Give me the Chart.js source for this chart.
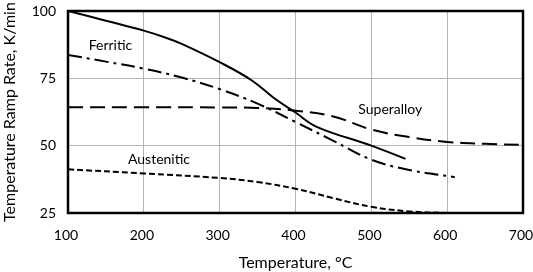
<!DOCTYPE html>
<html>
<head>
<meta charset="utf-8">
<script src="https://cdn.jsdelivr.net/npm/chart.js@4/dist/chart.umd.min.js"></script>
<style>
html,body{margin:0;padding:0;background:#fff;}
#wrap{width:533px;height:272px;}
</style>
</head>
<body>
<div id="wrap"><canvas id="c" width="533" height="272"></canvas></div>
<script>
// Temperature (°C) values per series
const solidX = [100, 150, 200, 230, 250, 300, 342, 372, 400, 428, 500, 545];
const solidY = [100, 96.4, 92.7, 90, 87.8, 81, 74.3, 67.6, 62.3, 57, 50, 45.1];

const ferriticX = [100, 150, 200, 250, 300, 350, 400, 450, 500, 550, 610];
const ferriticY = [83.7, 81.2, 78.6, 75.3, 71, 65.6, 58.8, 51.8, 44.8, 41, 38.3];

const superalloyX = [100, 200, 300, 350, 400, 450, 500, 550, 600, 650, 700];
const superalloyY = [64.3, 64.3, 64.2, 64, 63, 60.8, 56, 53.2, 51.4, 50.7, 50.3];

const austeniticX = [100, 200, 300, 350, 400, 450, 500, 550, 600];
const austeniticY = [41.2, 39.7, 38, 36.5, 34, 30.5, 27.3, 25.6, 25];

const xTicks = [100, 200, 300, 400, 500, 600, 700];
const yTicks = [25, 50, 75, 100];

const labelTexts = ["Ferritic", "Superalloy", "Austenitic"];
const labelX = [156, 525, 220];
const labelY = [87.3, 63.5, 45];

const FONT = "Lato, 'Liberation Sans', sans-serif";

function pts(xs, ys){ return xs.map((x,i)=>({x:x, y:ys[i]})); }

const textPlugin = {
  id: 'seriesText',
  afterDatasetsDraw(chart){
    const {ctx, scales:{x, y}, chartArea:a} = chart;
    ctx.save();
    ctx.fillStyle = '#000';
    ctx.font = "14px " + FONT;
    ctx.textAlign = 'center';
    ctx.textBaseline = 'middle';
    labelTexts.forEach((t,i)=>{
      ctx.fillText(t, x.getPixelForValue(labelX[i]), y.getPixelForValue(labelY[i]));
    });
    ctx.strokeStyle = '#000';
    ctx.lineWidth = 2.5;
    ctx.strokeRect(a.left, a.top, a.right - a.left, a.bottom - a.top);
    ctx.restore();
  }
};

const common = {borderColor:'#000', borderWidth:2, pointRadius:0, fill:false, tension:0.4};

new Chart(document.getElementById('c'), {
  type: 'line',
  data: {
    datasets: [
      Object.assign({label:'Solid', data: pts(solidX, solidY)}, common),
      Object.assign({label:'Ferritic', data: pts(ferriticX, ferriticY), borderDash:[14,5,3,5]}, common),
      Object.assign({label:'Superalloy', data: pts(superalloyX, superalloyY), borderDash:[15,7]}, common),
      Object.assign({label:'Austenitic', data: pts(austeniticX, austeniticY), borderDash:[6,3]}, common)
    ]
  },
  options: {
    responsive: false,
    animation: false,
    devicePixelRatio: 1,
    layout: {padding: {top: 11, right: 10, left: 0, bottom: 0}},
    plugins: {legend: {display:false}, tooltip: {enabled:false}},
    scales: {
      x: {
        type: 'linear', min: 100, max: 700,
        afterBuildTicks: s => { s.ticks = xTicks.map(v=>({value:v})); },
        afterFit: s => { s.height = 59; s.paddingRight = 0; s.paddingLeft = 0; },
        grid: {color:'#b4b4b4', lineWidth:1, drawTicks:false},
        border: {display:false},
        ticks: {color:'#000', font:{family:FONT, size:14}, padding:14, maxRotation:0, labelOffset:-2},
        title: {display:true, text:'Temperature, °C', color:'#000', font:{family:FONT, size:16}, padding:{top:2, bottom:0}}
      },
      y: {
        type: 'linear', min: 25, max: 100,
        afterBuildTicks: s => { s.ticks = yTicks.map(v=>({value:v})); },
        afterFit: s => { s.width = 68; s.paddingTop = 0; s.paddingBottom = 0; },
        grid: {color:'#b4b4b4', lineWidth:1, drawTicks:false},
        border: {display:false},
        ticks: {color:'#000', font:{family:FONT, size:14}, padding:12},
        title: {display:true, text:'Temperature Ramp Rate, K/min', color:'#000', font:{family:FONT, size:16}, padding:{top:0, bottom:3}}
      }
    }
  },
  plugins: [textPlugin]
});
</script>
</body>
</html>
